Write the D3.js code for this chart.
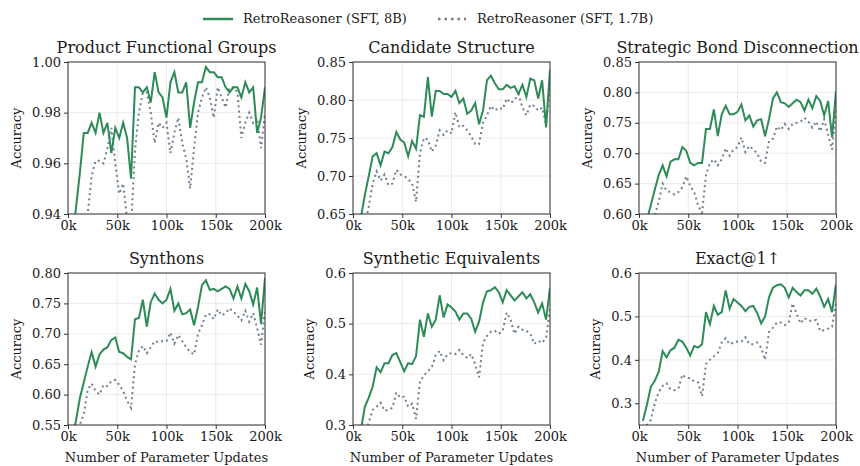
<!DOCTYPE html>
<html>
<head>
<meta charset="utf-8">
<script src="https://cdn.jsdelivr.net/npm/d3@7"></script>
<style>
  body { margin: 0; background: #fff; }
  text { font-family: "DejaVu Serif", serif; fill: #1a1a1a; }
</style>
</head>
<body>
<svg id="chart" width="860" height="466"></svg>
<script>
// evaluation points, thousands of parameter updates
var steps = [4,8,12,16,20,24,28,32,36,40,44,48,52,56,60,64,68,72,76,80,84,88,92,96,100,
  104,108,112,116,120,124,128,132,136,140,144,148,152,156,160,164,168,172,176,180,184,188,192,196,200];

var titles = ["Product Functional Groups", "Candidate Structure", "Strategic Bond Disconnection",
  "Synthons", "Synthetic Equivalents", "Exact@1\u2191"];
var yDomains = [[0.94, 1.0], [0.65, 0.85], [0.60, 0.85], [0.55, 0.80], [0.3, 0.6], [0.25, 0.6]];
var yTicks = [
  [0.94, 0.96, 0.98, 1.00],
  [0.65, 0.70, 0.75, 0.80, 0.85],
  [0.60, 0.65, 0.70, 0.75, 0.80, 0.85],
  [0.55, 0.60, 0.65, 0.70, 0.75, 0.80],
  [0.3, 0.4, 0.5, 0.6],
  [0.3, 0.4, 0.5, 0.6]
];
var yFormats = [".2f", ".2f", ".2f", ".2f", ".1f", ".1f"];
var xTicks = [0, 50, 100, 150, 200];
var seriesNames = ["RetroReasoner (SFT, 8B)", "RetroReasoner (SFT, 1.7B)"];

var pfg8B = [0.930,0.942,0.956,0.972,0.972,0.976,0.972,0.980,0.972,0.976,0.964,0.974,0.970,0.976,0.970,0.954,
  0.990,0.990,0.988,0.990,0.984,0.996,0.988,0.986,0.978,0.992,0.996,0.988,0.988,0.992,0.974,0.984,0.992,0.992,
  0.998,0.996,0.996,0.994,0.994,0.990,0.988,0.990,0.990,0.986,0.992,0.988,0.990,0.972,0.978,0.990];
var pfg17B = [0.900,0.920,0.930,0.935,0.940,0.955,0.961,0.961,0.960,0.966,0.974,0.960,0.948,0.952,0.938,0.935,
  0.965,0.980,0.988,0.988,0.980,0.968,0.976,0.974,0.976,0.964,0.972,0.978,0.968,0.962,0.950,0.966,0.980,0.986,
  0.990,0.986,0.978,0.990,0.986,0.982,0.990,0.990,0.988,0.970,0.976,0.980,0.976,0.978,0.966,0.980];

var cand8B = [0.620,0.645,0.675,0.700,0.726,0.730,0.714,0.732,0.730,0.738,0.758,0.748,0.744,0.726,0.746,0.736,
  0.780,0.778,0.830,0.778,0.812,0.812,0.808,0.808,0.804,0.812,0.796,0.802,0.782,0.786,0.796,0.768,0.786,0.826,
  0.832,0.822,0.814,0.814,0.820,0.816,0.818,0.808,0.820,0.804,0.828,0.826,0.802,0.826,0.764,0.840];
var cand17B = [0.590,0.615,0.635,0.660,0.690,0.706,0.694,0.702,0.688,0.690,0.708,0.702,0.700,0.696,0.690,0.666,
  0.730,0.750,0.748,0.732,0.740,0.760,0.754,0.760,0.756,0.784,0.764,0.766,0.760,0.752,0.742,0.742,0.770,0.780,
  0.792,0.786,0.790,0.788,0.802,0.796,0.800,0.808,0.790,0.780,0.794,0.792,0.786,0.790,0.768,0.815];

var bond8B = [0.570,0.590,0.615,0.640,0.664,0.680,0.662,0.686,0.690,0.690,0.710,0.704,0.684,0.680,0.684,0.684,
  0.740,0.740,0.772,0.728,0.764,0.778,0.764,0.764,0.768,0.780,0.754,0.762,0.744,0.754,0.756,0.728,0.756,0.790,
  0.800,0.784,0.782,0.776,0.782,0.788,0.784,0.770,0.788,0.774,0.794,0.786,0.762,0.786,0.726,0.802];
var bond17B = [0.550,0.570,0.585,0.598,0.620,0.650,0.638,0.636,0.632,0.636,0.644,0.662,0.646,0.636,0.614,0.602,
  0.664,0.684,0.690,0.680,0.690,0.708,0.696,0.706,0.710,0.726,0.702,0.712,0.706,0.700,0.686,0.684,0.720,0.724,
  0.744,0.738,0.748,0.740,0.748,0.750,0.752,0.758,0.752,0.742,0.752,0.736,0.756,0.730,0.706,0.770];

var syn8B = [0.530,0.556,0.594,0.620,0.646,0.670,0.646,0.666,0.674,0.678,0.690,0.694,0.670,0.668,0.662,0.658,
  0.724,0.726,0.756,0.712,0.752,0.766,0.756,0.750,0.756,0.774,0.738,0.750,0.732,0.734,0.740,0.714,0.744,0.780,
  0.788,0.772,0.774,0.770,0.774,0.778,0.774,0.758,0.778,0.758,0.782,0.770,0.748,0.776,0.716,0.792];
var syn17B = [0.520,0.535,0.550,0.568,0.608,0.618,0.606,0.600,0.616,0.614,0.622,0.624,0.616,0.606,0.590,0.578,
  0.650,0.672,0.680,0.668,0.678,0.688,0.686,0.688,0.688,0.702,0.684,0.698,0.688,0.678,0.670,0.666,0.700,0.714,
  0.732,0.732,0.724,0.740,0.730,0.734,0.742,0.736,0.730,0.722,0.738,0.720,0.734,0.710,0.682,0.738];

var equiv8B = [0.260,0.290,0.336,0.354,0.376,0.414,0.404,0.422,0.422,0.438,0.442,0.424,0.406,0.422,0.420,0.436,
  0.508,0.474,0.520,0.494,0.508,0.556,0.512,0.538,0.532,0.524,0.508,0.520,0.520,0.510,0.484,0.504,0.542,0.564,
  0.566,0.572,0.562,0.542,0.566,0.556,0.546,0.554,0.562,0.550,0.558,0.542,0.522,0.540,0.508,0.570];
var equiv17B = [0.240,0.260,0.280,0.305,0.330,0.336,0.344,0.328,0.330,0.334,0.364,0.354,0.356,0.336,0.342,0.312,
  0.386,0.398,0.406,0.414,0.438,0.446,0.428,0.440,0.442,0.440,0.448,0.438,0.432,0.440,0.420,0.394,0.462,0.476,
  0.484,0.486,0.480,0.486,0.522,0.508,0.480,0.494,0.488,0.486,0.480,0.460,0.466,0.462,0.472,0.530];

var exact8B = [0.260,0.296,0.338,0.352,0.372,0.420,0.406,0.422,0.428,0.446,0.442,0.428,0.410,0.432,0.428,0.436,
  0.510,0.482,0.524,0.504,0.510,0.560,0.518,0.540,0.532,0.524,0.512,0.522,0.524,0.508,0.484,0.500,0.544,0.566,
  0.572,0.574,0.566,0.544,0.566,0.556,0.548,0.560,0.560,0.552,0.564,0.546,0.522,0.540,0.510,0.574];
var exact17B = [0.240,0.250,0.262,0.300,0.326,0.340,0.346,0.332,0.330,0.334,0.366,0.358,0.358,0.350,0.348,0.316,
  0.390,0.400,0.408,0.416,0.440,0.450,0.436,0.440,0.442,0.442,0.452,0.436,0.436,0.440,0.428,0.400,0.464,0.474,
  0.486,0.486,0.480,0.486,0.530,0.506,0.484,0.496,0.490,0.490,0.492,0.466,0.468,0.472,0.476,0.530];

var values8B = [pfg8B, cand8B, bond8B, syn8B, equiv8B, exact8B];
var values17B = [pfg17B, cand17B, bond17B, syn17B, equiv17B, exact17B];

var green = "#2e8b57";
var slate = "#708090";

var svg = d3.select("#chart");

var colLeft = [68, 353, 639];
var rowTop = [62, 273];
var pw = 197, ph = 152;

var xScale = d3.scaleLinear().domain([0, 200]).range([0, pw]);

titles.forEach(function(title, i) {
  var col = i % 3, row = Math.floor(i / 3);
  var g = svg.append("g")
    .attr("transform", `translate(${colLeft[col]}, ${rowTop[row]})`);

  var yScale = d3.scaleLinear().domain(yDomains[i]).range([ph, 0]);

  // grid
  g.append("g").selectAll("line")
    .data(xTicks).enter().append("line")
    .attr("x1", d => xScale(d)).attr("x2", d => xScale(d))
    .attr("y1", 0).attr("y2", ph)
    .attr("stroke", "#e6e6e6").attr("stroke-width", 0.8);
  g.append("g").selectAll("line")
    .data(yTicks[i]).enter().append("line")
    .attr("x1", 0).attr("x2", pw)
    .attr("y1", d => yScale(d)).attr("y2", d => yScale(d))
    .attr("stroke", "#e6e6e6").attr("stroke-width", 0.8);

  // clip lines to plot area
  g.append("clipPath").attr("id", "clip" + i)
    .append("rect").attr("width", pw).attr("height", ph);

  var line = d3.line()
    .x((d, j) => xScale(steps[j]))
    .y(d => yScale(d));

  var lines = g.append("g").attr("clip-path", `url(#clip${i})`);
  lines.append("path")
    .datum(values17B[i])
    .attr("d", line)
    .attr("fill", "none")
    .attr("stroke", slate)
    .attr("stroke-width", 2)
    .attr("stroke-dasharray", "2,3.3");
  lines.append("path")
    .datum(values8B[i])
    .attr("d", line)
    .attr("fill", "none")
    .attr("stroke", green)
    .attr("stroke-width", 2);

  // axes
  var xAxis = g.append("g")
    .attr("transform", `translate(0, ${ph})`)
    .call(d3.axisBottom(xScale).tickValues(xTicks).tickSize(4).tickPadding(3).tickFormat(d => d + "k"));
  var yAxis = g.append("g")
    .call(d3.axisLeft(yScale).tickValues(yTicks[i]).tickSize(4).tickPadding(3).tickFormat(d3.format(yFormats[i])));

  [xAxis, yAxis].forEach(function(ax) {
    ax.select(".domain").remove();
    ax.selectAll("line").attr("stroke", "#333");
    ax.selectAll("text").style("font-size", "13px").style("font-family", '"DejaVu Serif", serif').attr("fill", "#1a1a1a");
  });

  // frame
  g.append("rect")
    .attr("width", pw).attr("height", ph)
    .attr("fill", "none").attr("stroke", "#333").attr("stroke-width", 1);

  g.append("text")
    .attr("x", pw / 2).attr("y", -9)
    .style("text-anchor", "middle")
    .style("font-size", "16px")
    .text(title);

  var yb = yAxis.node().getBBox();
  g.append("text")
    .attr("transform", `translate(${yb.x - 11}, ${ph / 2}) rotate(-90)`)
    .style("text-anchor", "middle")
    .style("font-size", "13px")
    .text("Accuracy");

  if (row === 1) {
    g.append("text")
      .attr("x", pw / 2).attr("y", ph + 37)
      .style("text-anchor", "middle")
      .style("font-size", "13px")
      .text("Number of Parameter Updates");
  }
});

// legend
var legend = svg.append("g");
legend.append("line")
  .attr("x1", 203).attr("x2", 233).attr("y1", 19).attr("y2", 19)
  .attr("stroke", green).attr("stroke-width", 2.5);
legend.append("text")
  .attr("x", 243).attr("y", 23)
  .style("font-size", "13px")
  .text(seriesNames[0]);
legend.append("line")
  .attr("x1", 438).attr("x2", 466).attr("y1", 19).attr("y2", 19)
  .attr("stroke", slate).attr("stroke-width", 2.5)
  .attr("stroke-dasharray", "2.5,4");
legend.append("text")
  .attr("x", 477).attr("y", 23)
  .style("font-size", "13px")
  .text(seriesNames[1]);
</script>
</body>
</html>
